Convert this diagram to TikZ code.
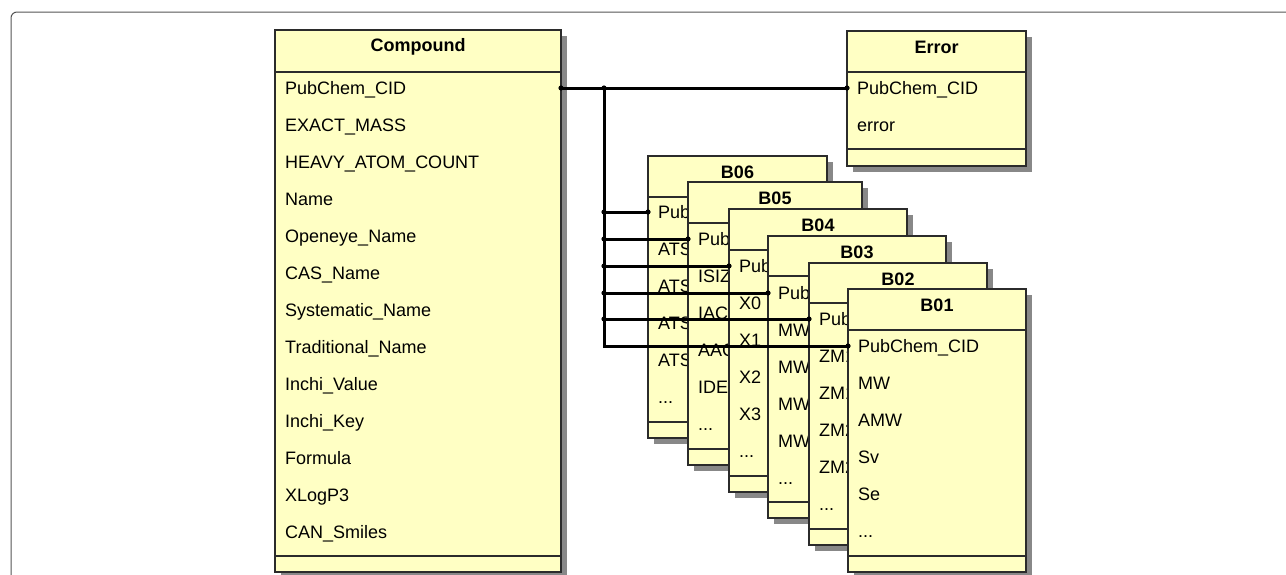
\documentclass[tikz,border=0pt]{standalone}
\usepackage{fontspec}
\setmainfont{Liberation Sans}
\definecolor{boxfill}{HTML}{FFFFC4}
\definecolor{shadowc}{HTML}{888888}
\definecolor{boxline}{HTML}{2B2B2B}
\definecolor{framec}{HTML}{555555}
\tikzset{
  boxpaint/.style={fill=boxfill, draw=boxline, line width=1.3pt},
  seppaint/.style={draw=boxline, line width=1.3pt},
  shadowpaint/.style={fill=shadowc},
  titletext/.style={font=\fontsize{18}{21}\selectfont\bfseries, inner sep=0pt, anchor=center},
  rowtext/.style={font=\fontsize{18}{21}\selectfont, inner sep=0pt, anchor=base west},
  conn/.style={line width=3pt, draw=black},
  connend/.style={fill=black},
}
\newcommand\tdots{...}
\newcommand\umlbox[8]{%
  \fill[shadowpaint] (#2+6,#3+6) rectangle (#4+6,#7+6);
  \path[boxpaint] (#2,#3) rectangle (#4,#7);
  \draw[seppaint] (#2,#5) -- (#4,#5);
  \draw[seppaint] (#2,#6) -- (#4,#6);
  \node[titletext] (#1-title) at ({(#2+#4)/2},{(#3+#5)/2-4}) {#8};
}
\newcommand\umlrows[4]{%
  \foreach \t [count=\i] in {#4} {
    \node[rowtext] (#1-\i) at (#2+10, {#3+37*(\i-1)+6.5}) {\t};
  }
}
\begin{document}
\begin{tikzpicture}[x=1pt,y=-1pt]
\useasboundingbox (0,0) rectangle (1286,574);
% outer frame
\draw[framec, line width=1pt, rounded corners=6pt] (11,620) -- (11,12) -- (1320,12);

% Compound
\umlbox{cmp}{275}{30}{561}{72}{556}{572}{Compound}
\umlrows{cmp}{275}{88}{PubChem\_CID,EXACT\_MASS,HEAVY\_ATOM\_COUNT,Name,Openeye\_Name,CAS\_Name,Systematic\_Name,Traditional\_Name,Inchi\_Value,Inchi\_Key,Formula,XLogP3,CAN\_Smiles}

% Error
\umlbox{err}{847}{31}{1026}{72}{149}{166}{Error}
\umlrows{err}{847}{88}{PubChem\_CID,error}

% B06 .. B01
\umlbox{b6}{648}{156}{827}{197}{422}{438}{B06}
\umlrows{b6}{648}{212}{PubChem\_CID,ATS,ATS,ATS,ATS,\tdots}
\umlbox{b5}{688}{182}{862}{223}{449}{465}{B05}
\umlrows{b5}{688}{239}{PubChem\_CID,ISIZ,IAC,AAC,IDE,\tdots}
\umlbox{b4}{729}{209}{907}{250}{476}{492}{B04}
\umlrows{b4}{729}{266}{PubChem\_CID,X0,X1,X2,X3,\tdots}
\umlbox{b3}{768}{236}{946}{276}{502}{518}{B03}
\umlrows{b3}{768}{293}{PubChem\_CID,MW,MW,MW,MW,\tdots}
\umlbox{b2}{809}{263}{987}{303}{529}{545}{B02}
\umlrows{b2}{809}{319}{PubChem\_CID,ZM1,ZM1,ZM2,ZM2,\tdots}
\umlbox{b1}{848}{289}{1026}{330}{556}{572}{B01}
\umlrows{b1}{848}{346}{PubChem\_CID,MW,AMW,Sv,Se,\tdots}

% connector anchor points
\coordinate (cmpR) at (561,88);
\coordinate (errL) at (847,88);
\coordinate (trunk) at (604,88);
\coordinate (b6L) at (648,212);
\coordinate (b5L) at (688,239);
\coordinate (b4L) at (729,266);
\coordinate (b3L) at (768,293);
\coordinate (b2L) at (809,319);
\coordinate (b1L) at (848,346);

% connectors
\draw[conn] (cmpR) -- (errL);
\draw[conn] (trunk) |- (b1L);
\foreach \b in {b6L,b5L,b4L,b3L,b2L} {
  \draw[conn] (trunk |- \b) -- (\b);
  \fill[connend] (trunk |- \b) circle (2.6);
  \fill[connend] (\b) circle (2.6);
}
\fill[connend] (cmpR) circle (2.6);
\fill[connend] (errL) circle (2.6);
\fill[connend] (trunk) circle (2.6);
\fill[connend] (b1L) circle (2.6);
\end{tikzpicture}
\end{document}
